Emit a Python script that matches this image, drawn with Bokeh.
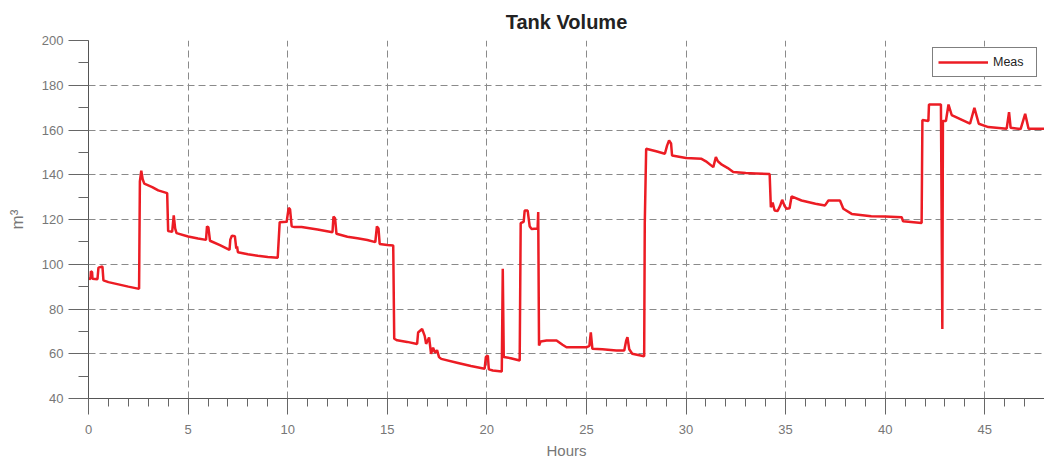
from bokeh.plotting import figure
from bokeh.models import Range1d, SingleIntervalTicker
from bokeh.embed import file_html
from bokeh.resources import INLINE

hours = [0.0, 0.1, 0.12, 0.18, 0.2, 0.45, 0.5, 0.7, 0.75, 1.0, 1.5, 2.0, 2.54, 2.58, 2.65, 2.72, 2.8, 3.2, 3.5, 3.95,
         4.0, 4.2, 4.28, 4.35, 4.42, 5.0, 5.5, 5.9, 5.95, 6.02, 6.1, 6.6, 7.08, 7.12, 7.2, 7.35, 7.42, 7.46, 7.5, 8.0,
         8.5, 9.0, 9.5, 9.6, 9.95, 10.05, 10.12, 10.2, 10.35, 10.7, 11.5, 12.25, 12.3, 12.38, 12.45, 13.0, 13.5, 14.0,
         14.4, 14.48, 14.56, 14.62, 15.0, 15.3, 15.35, 15.5, 16.0, 16.5, 16.55, 16.75, 16.88, 16.95, 17.1, 17.2, 17.3,
         17.4, 17.5, 17.6, 17.71, 18.5, 19.2, 19.89, 19.95, 20.05, 20.1, 20.3, 20.75, 20.8, 20.85, 21.2, 21.65, 21.7,
         21.85, 21.9, 22.05, 22.15, 22.24, 22.55, 22.58, 22.62, 22.7, 23.0, 23.5, 23.8, 24.0, 25.0, 25.15, 25.22, 25.3,
         25.8, 26.5, 26.9, 27.0, 27.06, 27.15, 27.3, 27.9, 27.93, 28.0, 28.5, 28.94, 29.05, 29.15, 29.25, 29.3, 30.0,
         30.78, 31.0, 31.37, 31.5, 31.6, 31.8, 32.1, 32.37, 33.0, 33.5, 34.2, 34.26, 34.35, 34.45, 34.6, 34.72, 34.83,
         34.95, 35.05, 35.2, 35.3, 35.8, 36.5, 36.98, 37.15, 37.73, 37.9, 38.32, 39.3, 39.99, 40.83, 40.9, 41.83, 41.87,
         42.17, 42.2, 42.8, 42.83, 42.87, 42.9, 43.05, 43.18, 43.34, 44.26, 44.48, 44.7, 45.18, 46.1, 46.22, 46.3,
         46.8, 47.03, 47.2, 48.0]
volume = [93.6, 93.4, 96.8, 96.5, 93.5, 93.3, 98.5, 99.0, 92.8, 92.0, 91.0, 90.0, 89.0, 137.0, 141.8, 138.0, 136.0,
          134.5, 133.0, 131.8, 114.8, 114.5, 121.8, 116.0, 113.9, 112.4, 111.5, 110.9, 116.9, 116.5, 110.5, 108.5,
          106.4, 111.0, 112.8, 112.5, 107.0, 108.0, 105.4, 104.5, 103.8, 103.2, 102.9, 118.8, 119.0, 125.2, 124.5,
          117.0, 116.6, 116.6, 115.5, 114.3, 121.3, 120.5, 113.6, 112.3, 111.6, 110.8, 109.9, 116.9, 116.0, 109.1,
          108.6, 108.4, 66.7, 66.0, 65.3, 64.4, 69.5, 71.1, 68.0, 64.4, 67.3, 60.0, 62.7, 60.5, 61.6, 58.5, 57.7,
          56.0, 54.5, 53.3, 58.5, 59.2, 53.0, 52.5, 52.1, 98.0, 58.5, 58.0, 57.0, 118.4, 119.0, 124.0, 124.0, 117.0,
          115.8, 116.0, 123.3, 63.7, 65.5, 65.9, 65.9, 64.0, 62.9, 62.9, 63.5, 69.6, 62.2, 62.0, 61.5, 61.5, 66.0,
          67.4, 62.0, 60.0, 58.9, 118.1, 151.6, 150.5, 149.4, 153.0, 155.3, 154.0, 148.6, 147.5, 147.1, 146.0, 143.4,
          147.9, 146.0, 144.5, 143.0, 141.2, 140.8, 140.6, 140.3, 125.5, 127.6, 124.0, 123.8, 126.0, 128.8, 126.0,
          124.8, 125.0, 130.3, 128.5, 127.0, 126.3, 128.5, 128.5, 124.8, 122.5, 121.5, 121.3, 121.0, 119.2, 118.4,
          164.5, 164.0, 171.4, 171.4, 127.7, 71.1, 164.0, 164.0, 171.4, 166.7, 162.8, 169.9, 162.8, 161.3, 160.6,
          168.0, 161.0, 160.4, 167.2, 160.6, 160.6]

title_text = "Tank Volume"
x_label = "Hours"
y_label = "m³"
series_name = "Meas"

FONT = "Liberation Sans"

p = figure(width=1044, height=462, output_backend="svg", toolbar_location=None,
           x_range=Range1d(0, 48), y_range=Range1d(40, 200),
           min_border_left=88, min_border_right=0, min_border_top=40, min_border_bottom=64)
p.outline_line_color = None
p.background_fill_color = "white"
p.border_fill_color = "white"

p.title.text = title_text
p.title.text_font = FONT
p.title.text_font_size = "20px"
p.title.text_font_style = "bold"
p.title.text_color = "#222222"
p.title.align = "center"
p.title.standoff = 15

p.line(hours, volume, line_color="#ec1c24", line_width=2.5, legend_label=series_name)

xa = p.xaxis[0]
ya = p.yaxis[0]
xa.ticker = SingleIntervalTicker(interval=5, num_minor_ticks=5)
ya.ticker = SingleIntervalTicker(interval=20, num_minor_ticks=2)

for ax in (xa, ya):
    ax.axis_line_color = "#555555"
    ax.major_tick_line_color = "#666666"
    ax.minor_tick_line_color = "#666666"
    ax.major_tick_in = 0
    ax.minor_tick_in = 0
    ax.major_label_text_font = FONT
    ax.major_label_text_font_size = "13px"
    ax.major_label_text_color = "#777777"
    ax.axis_label_text_font = FONT
    ax.axis_label_text_font_size = "15px"
    ax.axis_label_text_font_style = "normal"
    ax.axis_label_text_color = "#777777"

xa.axis_label = x_label
xa.major_tick_out = 16
xa.minor_tick_out = 8
xa.major_label_standoff = 10
xa.axis_label_standoff = 5

ya.axis_label = y_label
ya.axis_label_text_font_size = "17px"
ya.major_tick_out = 20
ya.minor_tick_out = 10
ya.major_label_standoff = 5
ya.axis_label_standoff = 12

for g in (p.xgrid[0], p.ygrid[0]):
    g.grid_line_color = "#8a8a8a"
    g.grid_line_dash = "7 4"
    g.grid_line_width = 1

lg = p.legend[0]
lg.location = "top_right"
lg.margin = 7
lg.padding = 5
lg.spacing = 0
lg.border_line_color = "black"
lg.border_line_width = 1
lg.background_fill_color = "white"
lg.background_fill_alpha = 1
lg.label_text_font = FONT
lg.label_text_font_size = "12.5px"
lg.label_text_color = "#222222"
lg.glyph_width = 50
lg.glyph_height = 18
lg.label_height = 18
lg.label_width = 38
lg.label_standoff = 5

open("out.html", "w").write(file_html(p, INLINE))
